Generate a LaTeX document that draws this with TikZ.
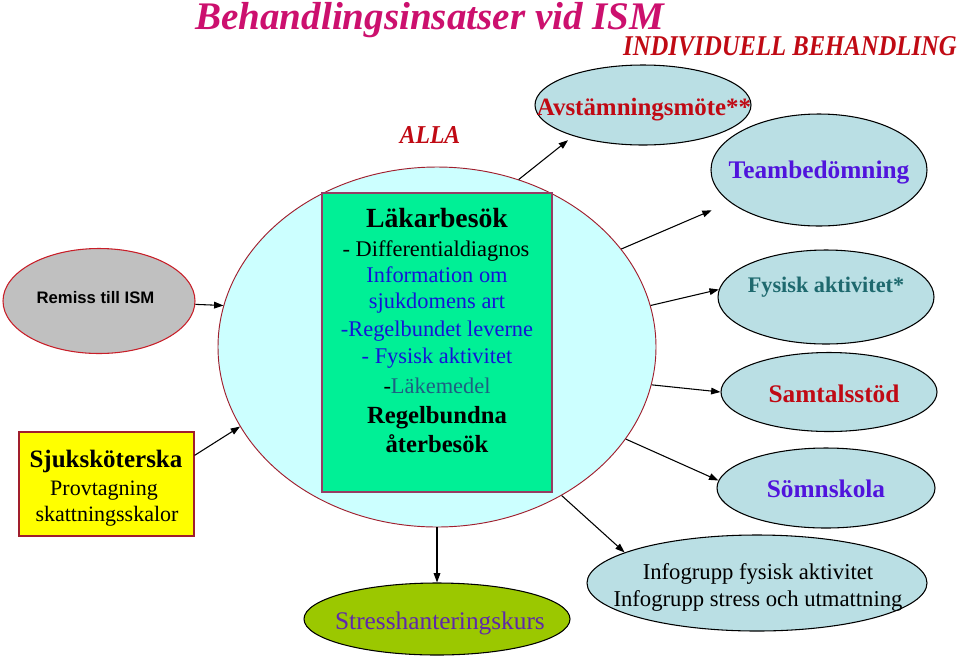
\documentclass[tikz,border=0pt]{standalone}
\usepackage{fontspec}
\setmainfont{Liberation Serif}
\newfontfamily\arialf{Liberation Sans}
\usetikzlibrary{shapes.geometric,arrows.meta}
\definecolor{titlecol}{RGB}{204,16,110}
\definecolor{darkred}{RGB}{192,10,20}
\definecolor{purpleblue}{RGB}{80,20,220}
\definecolor{tealc}{RGB}{30,105,110}
\definecolor{bluet}{RGB}{20,20,215}
\definecolor{lakc}{RGB}{30,95,130}
\definecolor{stressc}{RGB}{95,40,170}
\definecolor{ellfill}{RGB}{186,223,228}
\definecolor{bigfill}{RGB}{204,255,255}
\definecolor{bigdraw}{RGB}{160,30,45}
\definecolor{greenfill}{RGB}{0,240,150}
\definecolor{greendraw}{RGB}{150,60,100}
\definecolor{greyfill}{RGB}{192,192,192}
\definecolor{remissdraw}{RGB}{200,30,40}
\definecolor{yellowfill}{RGB}{255,255,0}
\definecolor{stressfill}{RGB}{155,200,0}
\newcommand\fsz[1]{\fontsize{#1}{#1}\selectfont}
\begin{document}
\begin{tikzpicture}[x=0.75pt,y=-0.75pt,
  ell/.style={ellipse, draw=black, line width=0.8pt, fill=ellfill, inner sep=0pt},
  arr/.style={-{Triangle[length=7pt,width=5pt]}, line width=0.8pt, black},
  txt/.style={inner sep=0pt, anchor=base}]
\useasboundingbox (0,0) rectangle (960,658);

% shapes
\node[ellipse, draw=bigdraw, line width=0.7pt, fill=bigfill, inner sep=0pt,
      minimum width=328.5pt, minimum height=270pt] (big) at (437,347) {};
\node[rectangle, draw=greendraw, line width=0.8pt, fill=greenfill, inner sep=0pt,
      minimum width=172.5pt, minimum height=224.25pt] (lak) at (437,342.5) {};
\node[ellipse, draw=remissdraw, line width=0.8pt, fill=greyfill, inner sep=0pt,
      minimum width=144pt, minimum height=78.75pt] (remiss) at (99,301) {};
\node[rectangle, draw=bigdraw, line width=0.8pt, fill=yellowfill, inner sep=0pt,
      minimum width=131.25pt, minimum height=78pt] (sjuk) at (106.5,484) {};
\node[ell, minimum width=162pt, minimum height=60pt] (avst) at (643,105) {};
\node[ell, minimum width=162pt, minimum height=84pt] (team) at (819,170) {};
\node[ell, minimum width=162pt, minimum height=70.5pt] (fys) at (826,297) {};
\node[ell, minimum width=162pt, minimum height=59.25pt] (samtal) at (829,392) {};
\node[ell, minimum width=163.5pt, minimum height=60pt] (somn) at (826,488) {};
\node[ell, minimum width=255pt, minimum height=72pt] (info) at (757,583) {};
\node[ell, fill=stressfill, minimum width=199.5pt, minimum height=54pt] (stress) at (437,619) {};

% headings
\node[txt, anchor=base west, text=titlecol] (title) at (195,29) {\fsz{29.3}\bfseries\itshape Behandlingsinsatser vid ISM};
\node[txt, anchor=base east, text=darkred] (indiv) at (957,55) {\scalebox{0.86}[1]{\fsz{21.5}\bfseries\itshape INDIVIDUELL BEHANDLING}};
\node[txt, text=darkred] (alla) at (430,143) {\scalebox{0.92}[1]{\fsz{19.3}\bfseries\itshape ALLA}};

% left texts
\node[txt] (remisst) at (95.5,303) {\arialf\fsz{12.5}\bfseries Remiss till ISM};
\node[txt] (sjuk1) at (106,467) {\fsz{18.75}\bfseries Sjuksköterska};
\node[txt] (sjuk2) at (104,495) {\fsz{16.5}Provtagning};
\node[txt] (sjuk3) at (107,521) {\fsz{16.5}skattningsskalor};

% central texts
\node[txt] (l1) at (437,227) {\fsz{20.8}\bfseries Läkarbesök};
\node[txt] (l2) at (436,256) {\fsz{16.8}- Differentialdiagnos};
\node[txt, text=bluet] (l3) at (437,282) {\fsz{16.8}Information om};
\node[txt, text=bluet] (l4) at (437,308) {\fsz{16.8}sjukdomens art};
\node[txt, text=bluet] (l5) at (437,336) {\fsz{16.8}-Regelbundet leverne};
\node[txt, text=bluet] (l6) at (437,363) {\fsz{16.8}- Fysisk aktivitet};
\node[txt] (l7) at (437,393) {\fsz{16.8}-\textcolor{lakc}{Läkemedel}};
\node[txt] (l8) at (437,423) {\fsz{18.5}\bfseries Regelbundna};
\node[txt] (l9) at (437,452) {\fsz{18.5}\bfseries återbesök};

% right texts
\node[txt, text=darkred] (avstt) at (644,115) {\fsz{18.7}\bfseries Avstämningsmöte**};
\node[txt, text=purpleblue] (teamt) at (819,178) {\fsz{19}\bfseries Teambedömning};
\node[txt, text=tealc] (fyst) at (826,292) {\fsz{16.7}\bfseries Fysisk aktivitet*};
\node[txt, text=darkred] (samtalt) at (834,402) {\fsz{19}\bfseries Samtalsstöd};
\node[txt, text=purpleblue] (somnt) at (826,497) {\fsz{19}\bfseries Sömnskola};
\node[txt] (info1) at (758,579) {\fsz{17}Infogrupp fysisk aktivitet};
\node[txt] (info2) at (758,606) {\fsz{17}Infogrupp stress och utmattning};
\node[txt, text=stressc] (stresst) at (440,629) {\fsz{19}Stresshanteringskurs};

% connectors
\draw[arr] (remiss.-2) -- (big.169);
\draw[arr] (sjuk.18) -- (big.202);
\draw[arr, shorten >=5pt] (big.64) -- (avst.204);
\draw[arr, shorten >=15pt] (big.28) -- (team.200);
\draw[arr] (big.11) -- (fys.176);
\draw[arr] (big.-10) -- (samtal.180);
\draw[arr] (big.-26) -- (somn.176);
\draw[arr] (big.-50) -- (info.167);
\draw[arr] (big.south) -- (stress.north);
\end{tikzpicture}
\end{document}
